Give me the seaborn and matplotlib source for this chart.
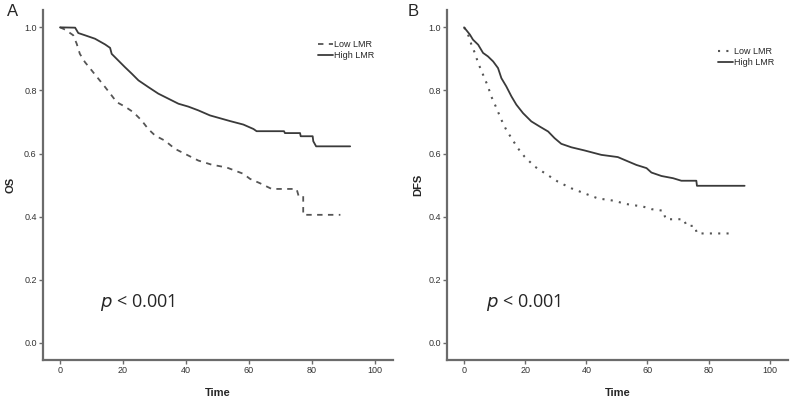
import numpy as np
import pandas as pd
import seaborn as sns
import matplotlib.pyplot as plt

# survival curves (vertices of each curve)
os_high_t = [0, 4.8, 5.8, 7.9, 11.1, 14.3, 15.9, 16.4, 18.5, 20.6, 22.8, 24.9, 28.0, 31.2, 34.4, 37.6,
             40.7, 43.9, 47.6, 54.0, 58.2, 61.4, 62.4, 71.1, 71.4, 76.2, 76.4, 80.2, 80.4, 81.3, 92.1]
os_high_s = [1.0, 0.999, 0.982, 0.975, 0.964, 0.946, 0.935, 0.916, 0.895, 0.874, 0.853, 0.832, 0.811, 0.790, 0.774, 0.758,
             0.749, 0.737, 0.721, 0.703, 0.692, 0.678, 0.671, 0.671, 0.665, 0.665, 0.655, 0.655, 0.639, 0.623, 0.623]

os_low_t = [0, 1.6, 4.2, 5.3, 6.3, 7.9, 10.1, 12.2, 14.3, 16.4, 18.0, 20.6, 23.3, 25.9, 28.0, 30.2,
            33.3, 36.5, 39.7, 43.9, 48.1, 52.9, 58.2, 60.3, 63.5, 67.2, 75.1, 75.7, 77.2, 77.2, 89.0]
os_low_s = [1.0, 0.993, 0.975, 0.948, 0.916, 0.890, 0.863, 0.837, 0.811, 0.784, 0.763, 0.749, 0.731, 0.705, 0.678, 0.657,
            0.641, 0.615, 0.599, 0.578, 0.565, 0.556, 0.536, 0.520, 0.506, 0.488, 0.488, 0.467, 0.467, 0.406, 0.406]

dfs_high_t = [0, 1.9, 2.9, 4.6, 6.2, 7.8, 9.5, 11.1, 12.2, 13.8, 15.5, 17.1, 19.3, 22.0, 24.7, 27.5,
              29.6, 31.8, 35.1, 39.4, 44.9, 50.3, 53.7, 56.4, 59.7, 61.3, 64.6, 68.4, 71.1, 76.0, 76.2, 91.8]
dfs_high_s = [1.0, 0.977, 0.961, 0.945, 0.919, 0.908, 0.892, 0.871, 0.839, 0.813, 0.781, 0.755, 0.728, 0.702, 0.686, 0.670,
              0.649, 0.631, 0.620, 0.610, 0.596, 0.589, 0.575, 0.564, 0.554, 0.540, 0.529, 0.522, 0.514, 0.514, 0.498, 0.498]

dfs_low_t = [0, 1.3, 2.4, 3.5, 4.6, 6.2, 7.8, 8.9, 10.6, 12.2, 13.8, 15.5, 17.6, 19.8, 23.1, 26.4,
             30.7, 35.1, 39.4, 43.8, 48.8, 53.2, 58.6, 61.3, 65.1, 66.0, 71.9, 72.8, 75.5, 76.2, 88.0]
dfs_low_s = [1.0, 0.977, 0.945, 0.919, 0.887, 0.850, 0.813, 0.781, 0.744, 0.707, 0.675, 0.649, 0.617, 0.590, 0.559, 0.538,
             0.511, 0.490, 0.474, 0.458, 0.451, 0.440, 0.432, 0.424, 0.419, 0.392, 0.392, 0.371, 0.371, 0.347, 0.347]

groups = ['Low LMR', 'High LMR']
xticks = [0, 20, 40, 60, 80, 100]
yticks = [0.0, 0.2, 0.4, 0.6, 0.8, 1.0]

sns.set_style('white')
plt.rcParams['font.family'] = ['Liberation Sans', 'DejaVu Sans']

fig = plt.figure(figsize=(7.92, 4.01), dpi=100)
axA = fig.add_axes([43 / 792, 41 / 401, 350 / 792, 350 / 401])
axB = fig.add_axes([447 / 792, 41 / 401, 341 / 792, 350 / 401])

line_col = '#3a3a3a'
axis_col = '#6b6b6b'


def draw_panel(ax, t_low, s_low, t_high, s_high, low_style, low_lw, ylab, xlim, leg_xy, p_x, ylab_x):
    # estimator=None so repeated times (vertical drops) are kept as they are
    sns.lineplot(x=t_low, y=s_low, ax=ax, color='#555555', estimator=None,
                 linestyle=low_style, linewidth=low_lw, label=groups[0], sort=False)
    sns.lineplot(x=t_high, y=s_high, ax=ax, color=line_col, estimator=None,
                 linestyle='-', linewidth=1.3, label=groups[1], sort=False)
    ax.set_xlim(*xlim)
    ax.set_ylim(-0.054, 1.055)
    ax.set_xticks(xticks)
    ax.set_yticks(yticks)
    ax.set_yticklabels(['%.1f' % v for v in yticks])
    for sp in ['top', 'right']:
        ax.spines[sp].set_visible(False)
    for sp in ['left', 'bottom']:
        ax.spines[sp].set_color(axis_col)
        ax.spines[sp].set_linewidth(1.6)
    ax.tick_params(direction='out', length=3, width=1, color=axis_col,
                   labelsize=6.5, labelcolor='#333333', pad=1.5, left=True, bottom=True)
    ax.set_xlabel('Time', fontsize=8, fontweight='bold')
    ax.set_ylabel(ylab, fontsize=8, fontweight='bold')
    ax.xaxis.set_label_coords(0.5, -0.08)
    ax.yaxis.set_label_coords(ylab_x, 0.5)
    ax.legend(loc='upper left', bbox_to_anchor=leg_xy, frameon=False, fontsize=6.5,
              handlelength=1.6, handletextpad=0.2, labelspacing=0.25, borderpad=0, borderaxespad=0)
    ax.text(p_x, 0.127, '$\\mathit{p}$ < 0.001', fontsize=13, va='center', ha='left',
            family=['Open Sans', 'DejaVu Sans'])


draw_panel(axA, os_low_t, os_low_s, os_high_t, os_high_s, (0, (3, 3)), 1.3, 'OS',
           (-5.4, 105.7), (0.786, 0.915), 12.7, -0.08)
draw_panel(axB, dfs_low_t, dfs_low_s, dfs_high_t, dfs_high_s, (0, (1, 3)), 1.5, 'DFS',
           (-5.6, 106.0), (0.795, 0.895), 7.2, -0.07)

fig.text(7 / 792, 1 - 12 / 401, 'A', fontsize=12, va='center', ha='left')
fig.text(408 / 792, 1 - 12 / 401, 'B', fontsize=12, va='center', ha='left')

fig.savefig('out.png', dpi=100)
